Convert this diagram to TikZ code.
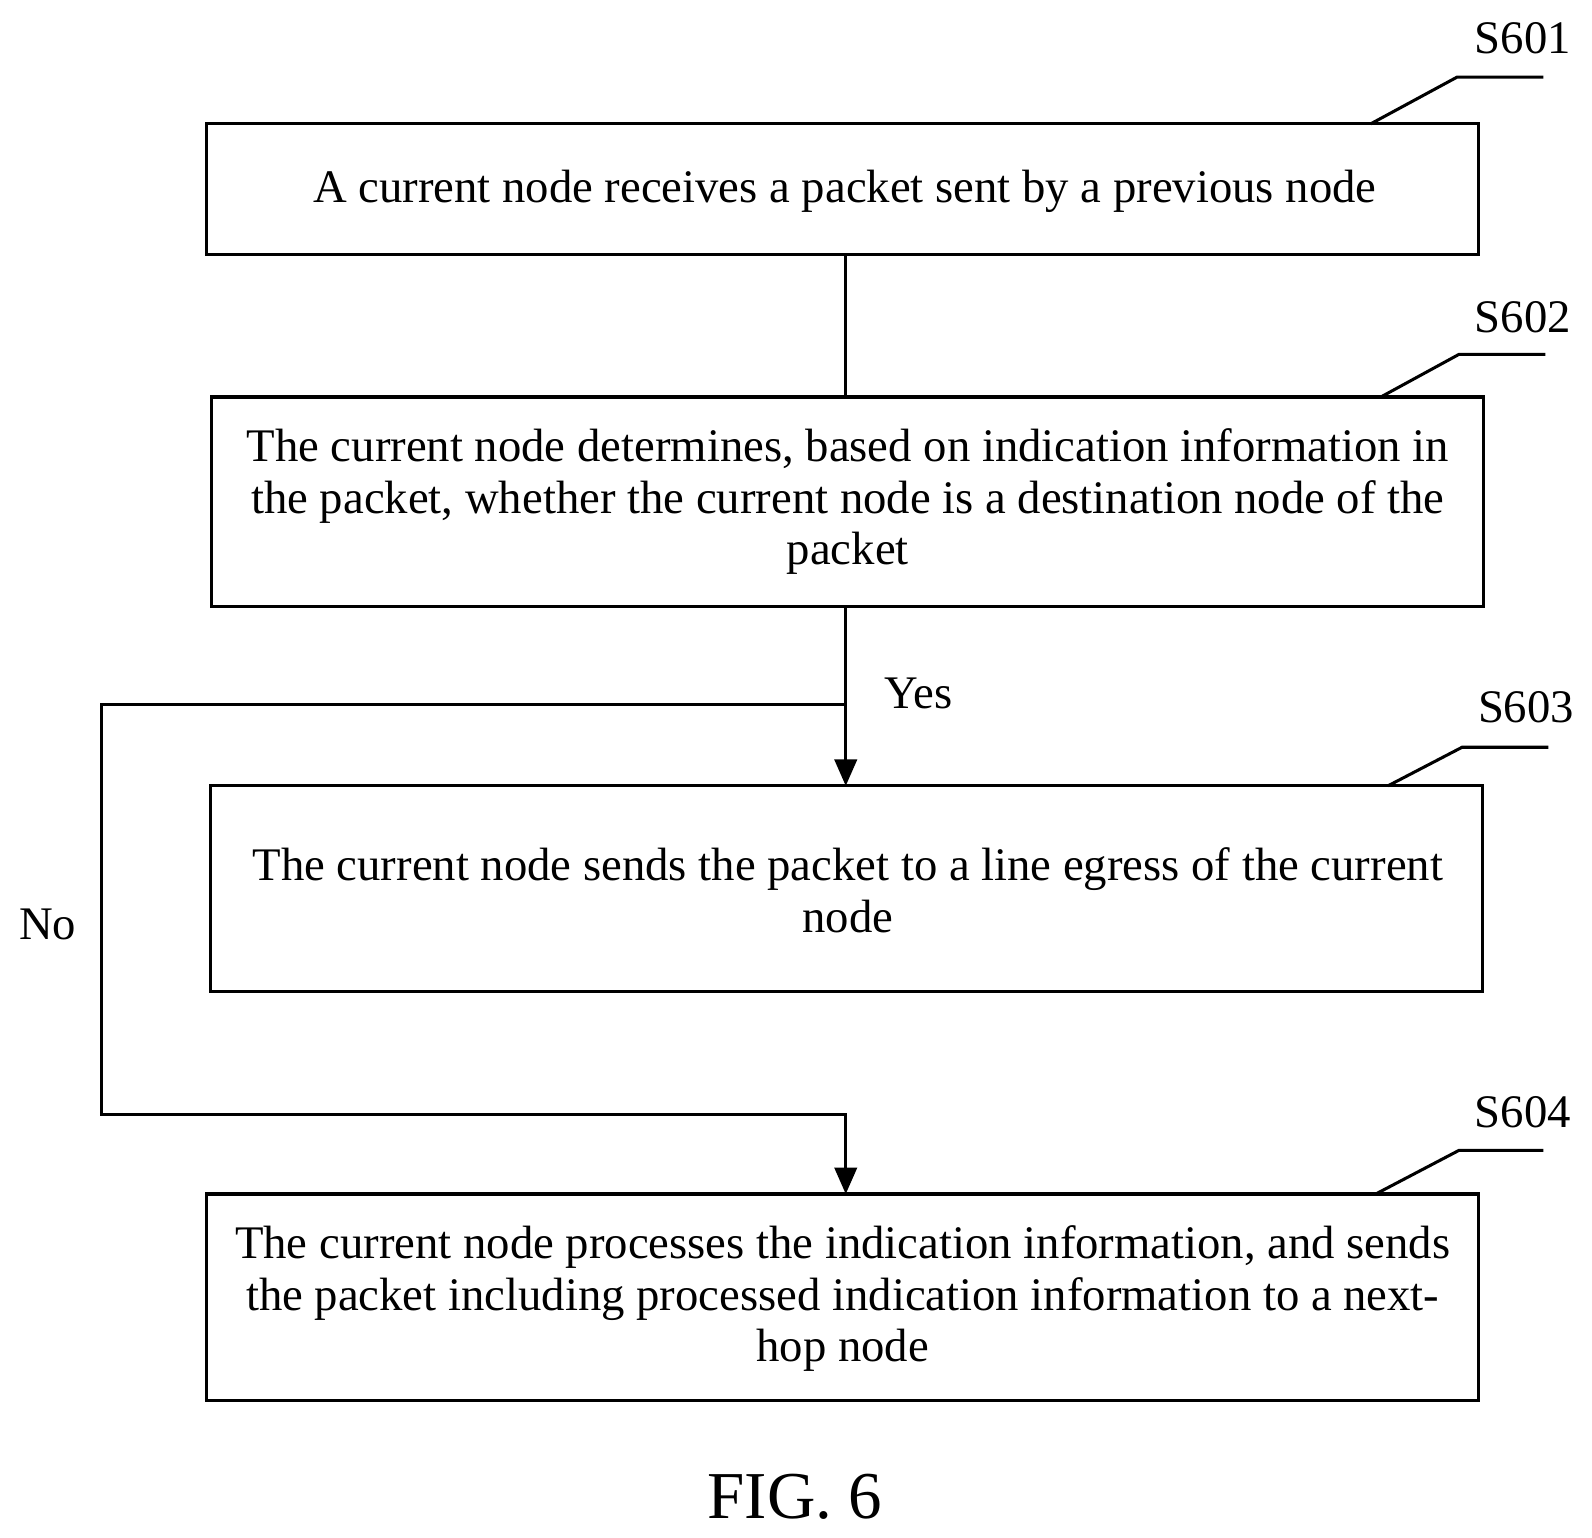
\documentclass[tikz,border=0pt]{standalone}
\usepackage{fontspec}
\setmainfont{Liberation Serif}
\usetikzlibrary{arrows.meta}
\begin{document}
\begin{tikzpicture}[x=0.5pt,y=-0.5pt,
  box/.style={draw,line width=1.5pt},
  txt/.style={align=center,font=\fontsize{23}{25.5}\selectfont},
  lbl/.style={font=\fontsize{23}{25.5}\selectfont},
  lead/.style={line width=1.5pt},
  con/.style={line width=1.5pt},
  arr/.style={con,-{Triangle[length=13pt,width=11pt]}}]
\useasboundingbox (0,0) rectangle (1568,1514);
\draw[box] (203,122) rectangle (1456,251);
\node[txt] (t1) at (832,188) {A current node receives a packet sent by a previous node};
\draw[box] (208,391) rectangle (1461,597);
\node[txt] (t2) at (835,494) {The current node determines, based on indication information in\\the packet, whether the current node is a destination node of the\\packet};
\draw[box] (207,774) rectangle (1460,977);
\node[txt] (t3) at (835,877) {The current node sends the packet to a line egress of the current\\node};
\draw[box] (203,1176) rectangle (1456,1379);
\node[txt] (t4) at (830,1279) {The current node processes the indication information, and sends\\the packet including processed indication information to a next-\\hop node};
\coordinate (a1) at (833,251); \coordinate (a2) at (833,391);
\coordinate (b1) at (833,597); \coordinate (b2) at (833,774);
\coordinate (n0) at (833,694); \coordinate (n1) at (100,694);
\coordinate (n2) at (100,1098); \coordinate (n3) at (833,1098);
\coordinate (c2) at (833,1176);
\draw[con] (a1) -- (a2);
\draw[arr] (b1) -- (b2);
\draw[arr] (n0) -- (n1) -- (n2) -- (n3) -- (c2);
\node[lbl] (yes) at (905,683) {Yes};
\node[lbl] (no) at (47,910) {No};
\draw[lead] (1350,122) -- (1435,76) -- (1520,76);
\node[lbl] (s1) at (1500,38) {S601};
\draw[lead] (1360,391) -- (1437,349) -- (1522,349);
\node[lbl] (s2) at (1500,312) {S602};
\draw[lead] (1367,774) -- (1440,736) -- (1525,736);
\node[lbl] (s3) at (1503,697) {S603};
\draw[lead] (1355,1176) -- (1437,1133) -- (1520,1133);
\node[lbl] (s4) at (1500,1095) {S604};
\node[font=\fontsize{33}{37}\selectfont] (fig) at (783,1474) {FIG. 6};
\end{tikzpicture}
\end{document}
